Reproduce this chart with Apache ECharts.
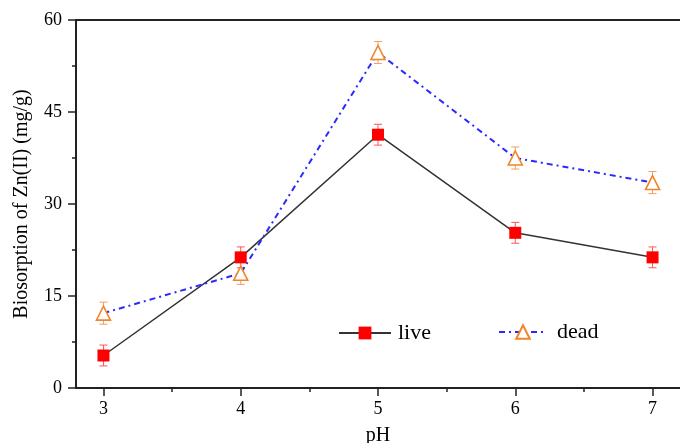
<!DOCTYPE html>
<html>
<head>
<meta charset="utf-8">
<script src="https://cdn.jsdelivr.net/npm/echarts@6/dist/echarts.min.js"></script>
<style>
  html, body { margin: 0; padding: 0; background: #fff; }
  #chart { width: 680px; height: 443px; }
</style>
</head>
<body>
<div id="chart"></div>
<script>
// Zn(II) biosorption by live and dead biomass as a function of pH
const phValues = [3, 4, 5, 6, 7];
const liveUptake = [5.3, 21.3, 41.3, 25.3, 21.3];
const liveError = [1.7, 1.7, 1.7, 1.7, 1.7];
const deadUptake = [12.2, 18.7, 54.7, 37.5, 33.5];
const deadError = [1.8, 1.8, 1.8, 1.8, 1.8];
const yTicks = [0, 15, 30, 45, 60];
const xMinorTicks = [3.5, 4.5, 5.5, 6.5];

const serif = '"Liberation Serif", "DejaVu Serif", serif';

function pairs(xs, ys) { return xs.map((x, i) => [x, ys[i]]); }
function errRows(xs, ys, es) { return xs.map((x, i) => [x, ys[i] - es[i], ys[i] + es[i]]); }

function errorBarRenderer(color) {
  return function (params, api) {
    const x = api.value(0);
    const lo = api.coord([x, api.value(1)]);
    const hi = api.coord([x, api.value(2)]);
    const cap = 4;
    const style = { stroke: color, lineWidth: 1 };
    return {
      type: 'group',
      children: [
        { type: 'line', shape: { x1: lo[0], y1: lo[1], x2: hi[0], y2: hi[1] }, style },
        { type: 'line', shape: { x1: lo[0] - cap, y1: lo[1], x2: lo[0] + cap, y2: lo[1] }, style },
        { type: 'line', shape: { x1: hi[0] - cap, y1: hi[1], x2: hi[0] + cap, y2: hi[1] }, style }
      ]
    };
  };
}

const axisLineStyle = { color: '#222', width: 2 };

const chart = echarts.init(document.getElementById('chart'), null, { renderer: 'canvas' });
chart.setOption({
  animation: false,
  backgroundColor: '#fff',
  grid: { left: 76, top: 20, right: 0, bottom: 55, outerBoundsMode: 'none', containLabel: false },
  legend: [
    {
      data: ['live'], left: 338, top: 322, padding: 0, itemWidth: 52, itemHeight: 16, itemGap: 0,
      textStyle: { fontFamily: serif, fontSize: 22, color: '#000', padding: [0, 0, 0, 2] }
    },
    {
      data: ['dead'], left: 498, top: 321, padding: 0, itemWidth: 48, itemHeight: 17, itemGap: 0,
      textStyle: { fontFamily: serif, fontSize: 22, color: '#000', padding: [0, 0, 0, 5] }
    }
  ],
  xAxis: [
    {
      type: 'value', min: 2.8, max: 7.2, position: 'bottom',
      name: 'pH', nameLocation: 'middle', nameGap: 38,
      nameTextStyle: { fontFamily: serif, fontSize: 20, color: '#000' },
      axisLine: { show: true, onZero: false, lineStyle: axisLineStyle },
      axisTick: { show: true, length: 8, customValues: phValues, lineStyle: { color: '#222', width: 1.5 } },
      axisLabel: { customValues: phValues, fontFamily: serif, fontSize: 18, color: '#000', margin: 12 },
      splitLine: { show: false }
    },
    {
      // minor ticks at half-pH steps
      type: 'value', min: 2.8, max: 7.2, position: 'bottom',
      axisLine: { show: false, onZero: false },
      axisTick: { show: true, length: 4, customValues: xMinorTicks, lineStyle: { color: '#222', width: 1.5 } },
      axisLabel: { show: false },
      splitLine: { show: false }
    },
    {
      // top frame line
      type: 'value', min: 2.8, max: 7.2, position: 'top',
      axisLine: { show: true, onZero: false, lineStyle: axisLineStyle },
      axisTick: { show: false }, axisLabel: { show: false }, splitLine: { show: false }
    }
  ],
  yAxis: {
    type: 'value', min: yTicks[0], max: yTicks[yTicks.length - 1], interval: 15,
    name: 'Biosorption of Zn(II) (mg/g)', nameLocation: 'middle', nameGap: 44,
    nameTextStyle: { fontFamily: serif, fontSize: 20, color: '#000' },
    axisLine: { show: true, lineStyle: axisLineStyle },
    axisTick: { show: true, length: 8, lineStyle: { color: '#222', width: 1.5 } },
    minorTick: { show: true, splitNumber: 2, length: 4, lineStyle: { color: '#222', width: 1.5 } },
    axisLabel: { fontFamily: serif, fontSize: 18, color: '#000', margin: 14 },
    splitLine: { show: false }
  },
  series: [
    {
      name: 'live', type: 'line', data: pairs(phValues, liveUptake),
      lineStyle: { color: '#333', width: 1.5 },
      symbol: 'rect', symbolSize: 12,
      itemStyle: { color: '#ff0000', borderWidth: 0 },
      z: 3
    },
    {
      name: 'dead', type: 'line', data: pairs(phValues, deadUptake),
      lineStyle: { color: '#2a2aff', width: 2, type: [6, 4, 2, 4] },
      symbol: 'triangle', symbolSize: 14,
      itemStyle: { color: '#fff', borderColor: '#f0852a', borderWidth: 1.6 },
      z: 3
    },
    {
      name: 'liveErr', type: 'custom', data: errRows(phValues, liveUptake, liveError),
      renderItem: errorBarRenderer('#ff5555'), z: 2
    },
    {
      name: 'deadErr', type: 'custom', data: errRows(phValues, deadUptake, deadError),
      renderItem: errorBarRenderer('#f0a060'), z: 2
    }
  ]
});
</script>
</body>
</html>
